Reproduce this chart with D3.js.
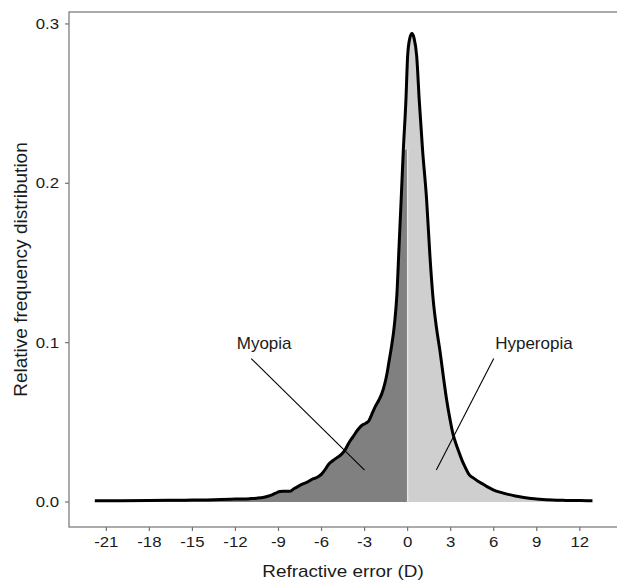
<!DOCTYPE html>
<html>
<head>
<meta charset="utf-8">
<script src="https://cdn.jsdelivr.net/npm/d3@7"></script>
<style>
  body { margin: 0; background: #fff; }
  text { font-family: "Liberation Sans", Arial, sans-serif; fill: #1a1a1a; }
</style>
</head>
<body>
<div id="chart"></div>
<script>
// refractive error (D) and relative frequency
const refraction = [
  -21.8, -20, -18, -16, -15, -14, -13, -12, -11, -10.5, -10, -9.6, -9.2, -8.9,
  -8.5, -8.2, -7.9, -7.6, -7.3, -7.0, -6.6, -6.3, -6.0, -5.7, -5.5, -5.2, -4.9,
  -4.6, -4.37, -4.1, -3.8, -3.5, -3.2, -2.9, -2.7, -2.5, -2.25, -2.0, -1.8, -1.6,
  -1.45, -1.3, -1.15, -0.9, -0.75, -0.6, -0.45, -0.3, -0.12, 0.0, 0.15, 0.3,
  0.45, 0.63, 0.81, 1.04, 1.32, 1.55, 1.78, 2.0, 2.25, 2.5, 2.72, 2.95, 3.15,
  3.35, 3.55, 3.8, 4.0, 4.3, 4.6, 4.9, 5.3, 5.6, 6.0, 6.5, 7.0, 7.5, 8.0, 8.6,
  9.2, 10.1, 11, 12, 12.88
]
const density = [
  0.0008, 0.0008, 0.0009, 0.0011, 0.0012, 0.0013, 0.0015, 0.0018, 0.0021, 0.0024,
  0.003, 0.004, 0.0055, 0.0066, 0.0067, 0.0068, 0.0085, 0.01, 0.0113, 0.0124,
  0.0145, 0.0155, 0.0175, 0.021, 0.0238, 0.026, 0.028, 0.03, 0.0325, 0.037,
  0.041, 0.045, 0.048, 0.0495, 0.051, 0.055, 0.06, 0.064, 0.068, 0.074, 0.08,
  0.088, 0.096, 0.113, 0.13, 0.16, 0.19, 0.221, 0.252, 0.28, 0.291, 0.294,
  0.291, 0.28, 0.252, 0.221, 0.19, 0.155, 0.127, 0.11, 0.095, 0.078, 0.064,
  0.052, 0.043, 0.037, 0.032, 0.026, 0.022, 0.017, 0.015, 0.013, 0.011, 0.0093,
  0.0075, 0.006, 0.0048, 0.0038, 0.003, 0.0022, 0.0017, 0.0012, 0.001, 0.0009,
  0.0008
]
const myopiaTop = 0.221 // height where the dark (x < 0) fill stops at 0 D

const xTicks = [-21, -18, -15, -12, -9, -6, -3, 0, 3, 6, 9, 12]
const yTicks = [0, 0.1, 0.2, 0.3]

const labels = ['Myopia', 'Hyperopia']
const labelX = [-10, 8.8]
const labelY = [0.1, 0.1]
const pointerX0 = [-10.9, 6.0]
const pointerY0 = [0.09, 0.09]
const pointerX1 = [-3, 2]
const pointerY1 = [0.02, 0.02]

const width = 617
const height = 581
const wide = 1.2 // glyphs in the source are a bit wider than Arial

const x = d3.scaleLinear().domain([-23.6, 14.8]).range([69, 620])
const y = d3.scaleLinear().domain([-0.0157, 0.3075]).range([527, 12])

const svg = d3.select('#chart')
  .append('svg')
  .attr('width', width)
  .attr('height', height)

const pts = refraction.map((r, i) => ({r, d: density[i]}))
const dark = pts.filter(p => p.r < 0).map(p => ({r: p.r, d: Math.min(p.d, myopiaTop)}))
dark.push({r: 0, d: myopiaTop})

const area = d3.area()
  .x(p => x(p.r))
  .y0(y(0))
  .y1(p => y(p.d))
  .curve(d3.curveMonotoneX)

// light fill under the whole curve, dark fill for myopia on top
svg.append('path')
  .datum(pts)
  .attr('d', area)
  .attr('fill', '#cfcfcf')

svg.append('path')
  .datum(dark)
  .attr('d', area)
  .attr('fill', '#808080')

svg.append('line')
  .attr('x1', x(0)).attr('x2', x(0))
  .attr('y1', y(0)).attr('y2', y(myopiaTop))
  .attr('stroke', '#e6e6e6')
  .attr('stroke-width', 1.4)

svg.append('path')
  .datum(pts)
  .attr('d', d3.line().x(p => x(p.r)).y(p => y(p.d)).curve(d3.curveMonotoneX))
  .attr('fill', 'none')
  .attr('stroke', '#000')
  .attr('stroke-width', 3)
  .attr('stroke-linejoin', 'round')

// annotations
labels.forEach((t, i) => {
  svg.append('line')
    .attr('x1', x(pointerX0[i])).attr('y1', y(pointerY0[i]))
    .attr('x2', x(pointerX1[i])).attr('y2', y(pointerY1[i]))
    .attr('stroke', '#000')
    .attr('stroke-width', 1.1)
  svg.append('text')
    .attr('x', x(labelX[i]))
    .attr('y', y(labelY[i]) + 6.5)
    .attr('text-anchor', 'middle')
    .style('font-size', '17px')
    .text(t)
})

// panel border (right side falls outside the picture)
svg.append('rect')
  .attr('x', 69).attr('y', 12)
  .attr('width', 560).attr('height', 515)
  .attr('fill', 'none')
  .attr('stroke', '#737373')
  .attr('stroke-width', 1.2)

// axes
const xAxis = svg.append('g').attr('transform', `translate(0,${y.range()[0]})`)
xAxis.selectAll('line')
  .data(xTicks).enter().append('line')
  .attr('x1', d => x(d)).attr('x2', d => x(d))
  .attr('y1', 0).attr('y2', 4)
  .attr('stroke', '#737373').attr('stroke-width', 1.2)
xAxis.selectAll('text')
  .data(xTicks).enter().append('text')
  .attr('transform', d => `translate(${x(d)},19.5) scale(${wide},1)`)
  .attr('text-anchor', 'middle')
  .style('font-size', '14px')
  .text(d => d)

const yAxis = svg.append('g').attr('transform', 'translate(69,0)')
yAxis.selectAll('line')
  .data(yTicks).enter().append('line')
  .attr('x1', -4).attr('x2', 0)
  .attr('y1', d => y(d)).attr('y2', d => y(d))
  .attr('stroke', '#737373').attr('stroke-width', 1.2)
yAxis.selectAll('text')
  .data(yTicks).enter().append('text')
  .attr('transform', d => `translate(-10,${y(d) + 5}) scale(${wide},1)`)
  .attr('text-anchor', 'end')
  .style('font-size', '14px')
  .text(d => d3.format('.1f')(d))

svg.append('text')
  .attr('transform', `translate(343,577) scale(1.18,1)`)
  .attr('text-anchor', 'middle')
  .style('font-size', '16px')
  .text('Refractive error (D)')

svg.append('text')
  .attr('transform', 'translate(27,269.5) rotate(-90)')
  .attr('text-anchor', 'middle')
  .style('font-size', '19px')
  .text('Relative frequency distribution')
</script>
</body>
</html>
